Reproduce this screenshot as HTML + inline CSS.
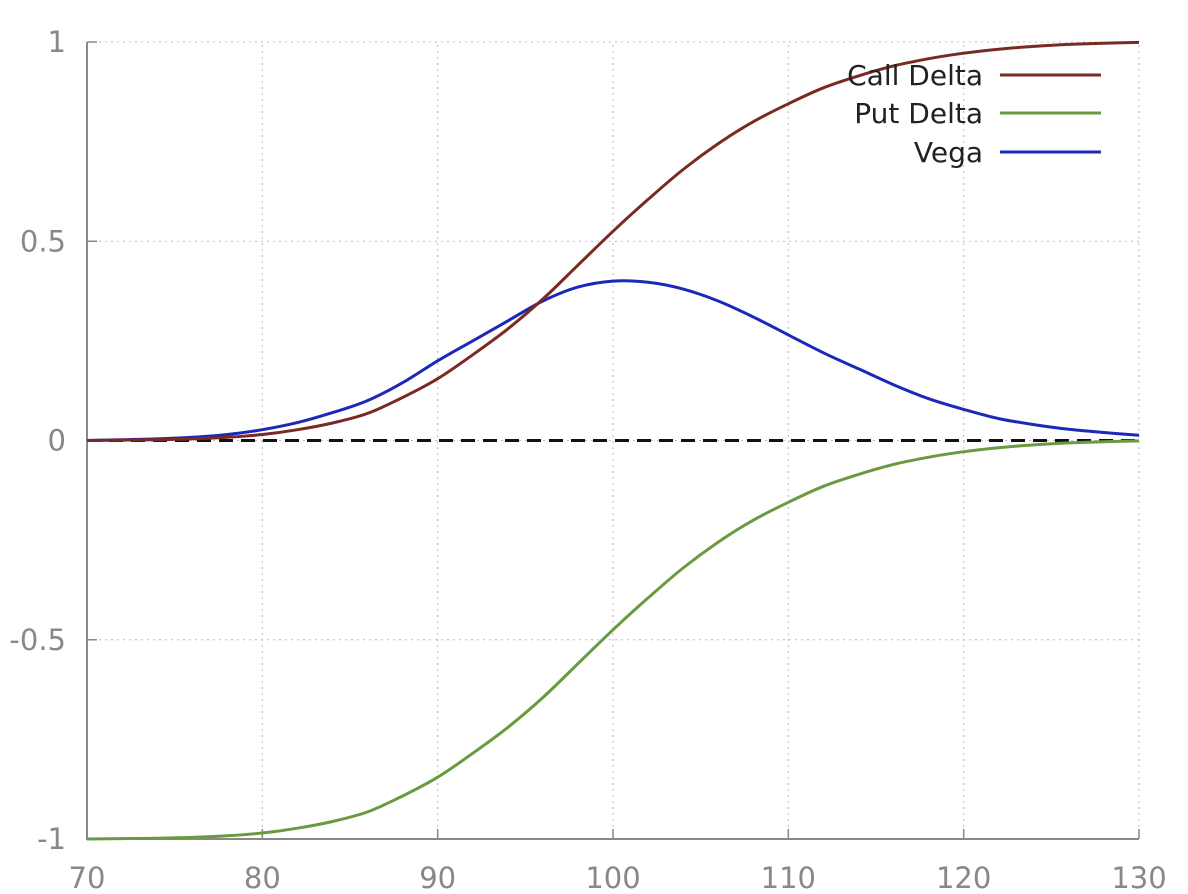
<!DOCTYPE html>
<html><head><meta charset="utf-8"><style>
body{margin:0;background:#fff;}
svg{display:block;font-family:"DejaVu Sans","Liberation Sans",sans-serif;}
</style></head><body>
<svg id="chart" width="1188" height="894" viewBox="0 0 1188 894"></svg>
<script>
const xs=[70,72,74,76,78,80,82,84,86,88,90,92,94,96,98,100,102,104,106,108,110,112,114,116,118,120,122,124,126,128,130];
const callDelta=[0,0.001,0.002,0.004,0.008,0.015,0.027,0.044,0.068,0.108,0.155,0.215,0.28,0.355,0.44,0.525,0.605,0.68,0.745,0.8,0.845,0.885,0.915,0.94,0.958,0.972,0.982,0.989,0.994,0.997,0.999];
const putDelta=[-1,-0.999,-0.998,-0.996,-0.992,-0.985,-0.973,-0.956,-0.932,-0.892,-0.845,-0.785,-0.72,-0.645,-0.56,-0.475,-0.395,-0.32,-0.255,-0.2,-0.155,-0.115,-0.085,-0.06,-0.042,-0.028,-0.018,-0.011,-0.006,-0.003,-0.001];
const vega=[0,0.002,0.004,0.008,0.015,0.027,0.045,0.07,0.1,0.145,0.2,0.25,0.3,0.35,0.385,0.4,0.397,0.38,0.35,0.31,0.265,0.22,0.18,0.14,0.105,0.078,0.055,0.04,0.028,0.02,0.013];
const xTicks=[70,80,90,100,110,120,130];
const yTicks=[-1,-0.5,0,0.5,1];
const yTickLabels=["-1","-0.5","0","0.5","1"];
const svg=document.getElementById('chart');const NS='http://www.w3.org/2000/svg';
const X0=87,X1=1139,Y0=839,Y1=42;
const sx=v=>X0+(v-70)/60*(X1-X0);
const sy=v=>Y0-(v+1)/2*(Y0-Y1);
function mk(tag,attrs,parent){const e=document.createElementNS(NS,tag);for(const k in attrs)e.setAttribute(k,attrs[k]);(parent||svg).appendChild(e);return e;}
xTicks.forEach(t=>{
  const g=mk('line',{x1:sx(t),x2:sx(t),y1:Y0,y2:Y1,stroke:'#bbb','stroke-width':1,'stroke-dasharray':'2,4'});
  
  
  const tk=mk('line',{x1:sx(t),x2:sx(t),y1:Y0,y2:Y0-10,stroke:'#888','stroke-width':1.5});
  
  
  const tx=mk('text',{x:sx(t),y:888,'text-anchor':'middle','font-size':29,fill:'#888'});tx.textContent=t;
  
  
});
yTicks.forEach((t,i)=>{
  const g=mk('line',{x1:X0,x2:X1,y1:sy(t),y2:sy(t),stroke:'#bbb','stroke-width':1,'stroke-dasharray':'2,4'});
  
  
  const tk=mk('line',{x1:X0,x2:X0+10,y1:sy(t),y2:sy(t),stroke:'#888','stroke-width':1.5});
  
  
  const tx=mk('text',{x:66,y:sy(t)+10,'text-anchor':'end','font-size':29,fill:'#888'});tx.textContent=yTickLabels[i];
  
  
});
const ax=mk('path',{d:`M${X0},${Y1}V${Y0}H${X1}`,fill:'none',stroke:'#888','stroke-width':2});


const zl=mk('line',{x1:X0,x2:X1,y1:sy(0),y2:sy(0),stroke:'#111','stroke-width':3,'stroke-dasharray':'14,8'});


function series(vals,color,name){
  const P=vals.map((v,i)=>[sx(xs[i]),sy(v)]);
  let d='M'+P[0][0].toFixed(1)+','+P[0][1].toFixed(1);
  for(let i=0;i<P.length-1;i++){
    const p0=P[Math.max(i-1,0)],p1=P[i],p2=P[i+1],p3=P[Math.min(i+2,P.length-1)];
    const c1=[p1[0]+(p2[0]-p0[0])/6,p1[1]+(p2[1]-p0[1])/6];
    const c2=[p2[0]-(p3[0]-p1[0])/6,p2[1]-(p3[1]-p1[1])/6];
    d+=`C${c1[0].toFixed(1)},${c1[1].toFixed(1)} ${c2[0].toFixed(1)},${c2[1].toFixed(1)} ${p2[0].toFixed(1)},${p2[1].toFixed(1)}`;
  }
  const p=mk('path',{d,fill:'none',stroke:color,'stroke-width':3,'stroke-linejoin':'round'});
  
  
}
series(putDelta,'#6a9a40','put-delta-line');
series(vega,'#1c28b8','vega-line');
series(callDelta,'#7a2a22','call-delta-line');
[['Call Delta','#7a2a22',75],['Put Delta','#6a9a40',113],['Vega','#1c28b8',152]].forEach(([lab,c,y])=>{
  const t=mk('text',{x:983,y:y+10,'text-anchor':'end','font-size':28,fill:'#222'});t.textContent=lab;
  
  
  const l=mk('line',{x1:1000,x2:1101,y1:y,y2:y,stroke:c,'stroke-width':3});
  
  
});
</script>
</body></html>
